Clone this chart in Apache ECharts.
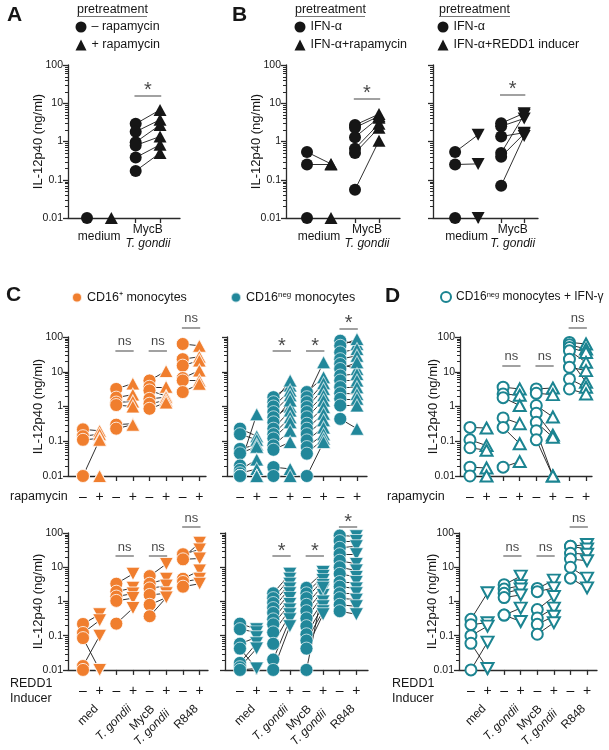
<!DOCTYPE html>
<html>
<head>
<meta charset="utf-8">
<script src="https://cdn.jsdelivr.net/npm/echarts@6/dist/echarts.min.js"></script>
<style>
html, body { margin: 0; padding: 0; background: #fff; }
#chart { width: 609px; height: 750px; }
</style>
</head>
<body>
<div id="chart"></div>
<script>
// IL-12p40 (ng/ml), one value per donor; 0.01 = detection floor
var decadeTicks = [0.01, 0.1, 1, 10, 100];
var groupsAB = ['medium', 'MycB\nT. gondii'];
var groupsCD = ['med', 'T. gondii', 'MycB\nT. gondii', 'R848'];

// A: - / + rapamycin
var aMinus = [[0.01], [2.9, 1.8, 0.96, 0.79, 0.38, 0.17]];
var aPlus = [[0.01], [6.7, 3.7, 2.7, 1.35, 0.82, 0.5]];
var aSigText = [null, '*'];

// B left: IFN-a / IFN-a + rapamycin
var bRapaMinus = [[0.53, 0.25, 0.01], [2.7, 2.3, 1.3, 0.65, 0.5, 0.055]];
var bRapaPlus = [[0.26, 0.25, 0.01], [5.2, 4.6, 4.2, 2.9, 2.3, 1.05]];
var bRapaSig = [null, '*'];

// B right: IFN-a / IFN-a + REDD1 inducer
var bReddMinus = [[0.53, 0.25, 0.01], [3.0, 2.5, 1.35, 0.5, 0.4, 0.07]];
var bReddPlus = [[1.5, 0.26, 0.01], [5.5, 4.0, 1.7, 5.0, 1.6, 1.4]];
var bReddSig = [null, '*'];

// C: CD16+ monocytes
var cPosRapaMinus = [[0.22, 0.14, 0.11, 0.01, 0.01, 0.01], [3.2, 1.8, 1.3, 1.1, 0.3, 0.23],
  [5.6, 3.7, 2.9, 1.66, 1.2, 0.86], [63, 23, 15, 6.6, 5.6, 2.6]];
var cPosRapaPlus = [[0.2, 0.16, 0.12, 0.11, 0.01, 0.01], [4.6, 2.2, 1.4, 1.0, 0.32, 0.3],
  [10.5, 3.7, 2.0, 1.85, 1.5, 1.3], [56, 27, 21, 10.8, 5.6, 4.5]];
var cPosRapaSig = [null, 'ns', 'ns', 'ns'];

var cPosReddMinus = [[0.22, 0.12, 0.085, 0.013, 0.01], [3.3, 1.93, 1.39, 1.04, 0.225],
  [5.5, 3.3, 2.4, 1.55, 0.8, 0.37], [19, 24, 17, 4.6, 3.7, 2.7]];
var cPosReddPlus = [[0.42, 0.28, 0.01, 0.1, 0.01], [6.4, 2.5, 1.7, 1.25, 0.64],
  [12.5, 4.6, 2.9, 1.73, 1.3, 1.3], [52, 33, 18, 8.0, 4.6, 3.3]];
var cPosReddSig = [null, 'ns', 'ns', 'ns'];

// C: CD16neg monocytes
var cNegRapaMinus = [
  [0.23, 0.16, 0.06, 0.045, 0.02, 0.015, 0.012, 0.01, 0.01, 0.01, 0.01, 0.01, 0.01],
  [1.85, 1.33, 1.0, 0.69, 0.49, 0.35, 0.23, 0.16, 0.12, 0.076, 0.057, 0.018, 0.01],
  [2.6, 1.85, 1.33, 0.96, 0.69, 0.49, 0.32, 0.23, 0.16, 0.106, 0.068, 0.044, 0.01],
  [78, 56, 36, 23, 16.7, 12, 7.8, 5.6, 3.6, 2.4, 1.66, 1.07, 0.44]];
var cNegRapaPlus = [
  [0.14, 0.11, 0.08, 0.07, 0.6, 0.03, 0.016, 0.01, 0.01, 0.01, 0.01, 0.01, 0.01],
  [4.0, 5.6, 2.9, 2.1, 1.0, 1.5, 0.77, 0.49, 0.35, 0.2, 0.095, 0.016, 0.01],
  [7.0, 18.7, 4.7, 3.2, 2.1, 1.5, 0.96, 0.62, 0.4, 0.25, 0.16, 0.12, 0.095],
  [63, 88, 45, 29, 12, 18.7, 8.6, 5.6, 3.6, 2.3, 1.66, 1.07, 0.23]];
var cNegRapaSig = [null, '*', '*', '*'];

var cNegReddMinus = [
  [0.225, 0.155, 0.058, 0.042, 0.016, 0.012, 0.01],
  [1.73, 1.25, 0.9, 0.64, 0.46, 0.3, 0.215, 0.125, 0.058, 0.02, 0.01],
  [2.5, 1.73, 1.25, 0.8, 0.52, 0.32, 0.19, 0.11, 0.072, 0.042, 0.01],
  [84, 58, 37, 24, 15.5, 10, 6.4, 3.7, 2.7, 1.73, 1.25, 0.8, 0.52]];
var cNegReddPlus = [
  [0.155, 0.125, 0.09, 0.011, 0.06, 0.042, 0.011],
  [6.4, 4.6, 3.3, 2.4, 1.73, 1.25, 0.84, 0.58, 0.42, 0.3, 0.19],
  [7.2, 5.5, 4.2, 3.0, 2.15, 1.55, 1.0, 0.72, 0.52, 0.42, 2.5],
  [80, 58, 41, 24, 12.5, 8, 5.2, 3.7, 2.4, 1.73, 1.12, 0.72, 0.42]];
var cNegReddSig = [null, '*', '*', '*'];

// D: CD16neg monocytes + IFN-g
var dRapaMinus = [[0.25, 0.11, 0.065, 0.018, 0.01], [3.6, 2.3, 1.8, 0.47, 0.25, 0.018],
  [3.2, 2.4, 1.07, 0.64, 0.35, 0.2, 0.11], [70, 60, 50, 40, 23, 13.5, 6.2, 3.2]];
var dRapaPlus = [[0.24, 0.075, 0.055, 0.017, 0.01], [3.2, 2.1, 1.07, 0.32, 0.085, 0.026],
  [3.4, 2.2, 0.5, 0.15, 0.13, 0.01, 0.01], [63, 45, 36, 18.7, 5.0, 10.8, 3.6, 2.3]];
var dRapaSig = [null, 'ns', 'ns', 'ns'];

var dReddMinus = [[0.3, 0.21, 0.1, 0.06, 0.01], [3.1, 2.3, 1.73, 1.3, 0.4, 0.4],
  [2.4, 1.93, 0.58, 0.33, 0.215, 0.11], [41, 41, 25.6, 17.3, 10, 4.8]];
var dReddPlus = [[1.8, 0.24, 0.19, 0.011, 0.065], [5.5, 2.9, 2.3, 1.55, 0.64, 0.26],
  [4.2, 2.5, 1.39, 0.64, 0.37, 0.24], [46, 34, 24, 15.5, 4.8, 2.5]];
var dReddSig = [null, 'ns', 'ns', 'ns'];

var FONT = '"Liberation Sans", Arial, Helvetica, sans-serif';
var INK = '#161616';
var AXIS = '#2a2a2a';
var ORANGE = '#F07E2E';
var TEAL = '#21879A';
var TEAL_LINE = '#1B8491';

var looks = {
  black: { color: INK, borderColor: INK, borderWidth: 0, circle: 12, tri: [13, 12] },
  orange: { color: ORANGE, borderColor: 'rgba(255,255,255,0.8)', borderWidth: 1, circle: 13, tri: [14, 13] },
  teal: { color: TEAL, borderColor: 'rgba(255,255,255,0.65)', borderWidth: 1, circle: 13, tri: [14, 13] },
  open: { color: '#fff', borderColor: TEAL_LINE, borderWidth: 2, circle: 11, tri: [12, 11] }
};

var panels = [
  { rect: [68, 65, 112, 153], xr: [-0.78, 3.82], look: 'black', down: false, groups: groupsAB,
    minus: aMinus, plus: aPlus, names: ['\u2013 rapamycin', '+ rapamycin'], sig: aSigText, sigAt: [0, 16], nameGap: 23.5 },
  { rect: [286, 65, 114, 153], xr: [-0.875, 3.875], look: 'black', down: false, groups: groupsAB,
    minus: bRapaMinus, plus: bRapaPlus, names: ['IFN-\u03b1', 'IFN-\u03b1+rapamycin'], sig: bRapaSig, sigAt: [0, 13.5], nameGap: 23.5 },
  { rect: [433, 65, 105, 153], xr: [-0.96, 3.6], look: 'black', down: true, groups: groupsAB,
    minus: bReddMinus, plus: bReddPlus, names: ['IFN-\u03b1', 'IFN-\u03b1+REDD1 inducer'], sig: bReddSig, sigAt: [0, 17], nameGap: null },
  { rect: [68, 337, 138, 139], xr: [-0.9, 7.4], look: 'orange', down: false, groups: groupsCD,
    minus: cPosRapaMinus, plus: cPosRapaPlus, names: ['CD16\u207a monocytes', 'CD16+ rapamycin'], sig: cPosRapaSig, sigAt: [0, 40, 40, 190], nameGap: 23.5 },
  { rect: [227, 337, 140, 139], xr: [-0.78, 7.6], look: 'teal', down: false, groups: groupsCD,
    minus: cNegRapaMinus, plus: cNegRapaPlus, names: ['CD16neg monocytes', 'CD16neg rapamycin'], sig: cNegRapaSig, sigAt: [0, 40, 40, 178], nameGap: null },
  { rect: [460, 337, 132, 139], xr: [-0.6, 7.36], look: 'open', down: false, groups: groupsCD,
    minus: dRapaMinus, plus: dRapaPlus, names: ['CD16neg monocytes + IFN-\u03b3', 'IFN-g rapamycin'], sig: dRapaSig, sigAt: [0, 15, 15, 190], nameGap: 20.5 },
  { rect: [68, 533, 140, 140], xr: [-0.9, 7.5], look: 'orange', down: true, groups: groupsCD, rotated: true,
    minus: cPosReddMinus, plus: cPosReddPlus, names: ['CD16\u207a monocytes', 'CD16+ REDD1'], sig: cPosReddSig, sigAt: [0, 21, 21, 150], nameGap: 23.5 },
  { rect: [225, 533, 143, 140], xr: [-0.9, 7.7], look: 'teal', down: true, groups: groupsCD, rotated: true,
    minus: cNegReddMinus, plus: cNegReddPlus, names: ['CD16neg monocytes', 'CD16neg REDD1'], sig: cNegReddSig, sigAt: [0, 21, 21, 150], nameGap: null },
  { rect: [459, 533, 138, 140], xr: [-0.72, 7.6], look: 'open', down: true, groups: groupsCD, rotated: true,
    minus: dReddMinus, plus: dReddPlus, names: ['CD16neg monocytes + IFN-\u03b3', 'IFN-g REDD1'], sig: dReddSig, sigAt: [0, 21, 21, 150], nameGap: 20.5 }
];

var groupRich = {
  n: { fontSize: 12, color: INK, align: 'center', lineHeight: 14 },
  i: { fontSize: 12, color: INK, align: 'center', lineHeight: 14, fontStyle: 'italic' }
};
function groupLabel(name) {
  return name.split('\n').map(function (part) {
    return (part.indexOf('gondii') >= 0 ? '{i|' : '{n|') + part + '}';
  }).join('\n');
}
function decadeLabel(v) {
  return v >= 1 ? String(Math.round(v)) : String(Number(v.toPrecision(1)));
}
function pointsOf(groups, offset) {
  var out = [];
  groups.forEach(function (vals, g) {
    vals.forEach(function (v) { out.push([2 * g + offset, v]); });
  });
  return out;
}
function pairLines(minus, plus) {
  var out = [];
  minus.forEach(function (vals, g) {
    vals.forEach(function (v, i) { out.push({ coords: [[2 * g, v], [2 * g + 1, plus[g][i]]] }); });
  });
  return out;
}

var option = {
  animation: false,
  backgroundColor: '#fff',
  textStyle: { fontFamily: FONT },
  grid: [], xAxis: [], yAxis: [], series: []
};

function addPanel(p) {
  var gi = option.grid.length;
  option.grid.push({ left: p.rect[0], top: p.rect[1], width: p.rect[2], height: p.rect[3] });
  var nPos = p.groups.length * 2;
  var ticks = [];
  for (var t = 0; t < nPos; t++) ticks.push(t);
  var isAB = p.groups.length === 2;

  var xi = option.xAxis.length;
  option.xAxis.push({
    type: 'value', gridIndex: gi, position: 'bottom', min: p.xr[0], max: p.xr[1],
    splitLine: { show: false },
    axisLine: { onZero: false, lineStyle: { color: AXIS, width: 1.3 } },
    axisTick: { customValues: ticks, length: 5, lineStyle: { color: AXIS, width: 1.3 } },
    axisLabel: isAB ? {
      customValues: [0.5, 2.5], margin: 19, verticalAlign: 'middle', color: INK, fontSize: 12, rich: groupRich,
      formatter: function (v) { return groupLabel(p.groups[Math.round((v - 0.5) / 2)]); }
    } : {
      customValues: ticks, margin: 21, verticalAlign: 'middle', color: INK, fontSize: 14,
      formatter: function (v) { return Math.round(v) % 2 ? '+' : '\u2013'; }
    }
  });
  if (p.rotated) {
    option.xAxis.push({
      type: 'value', gridIndex: gi, position: 'bottom', min: p.xr[0], max: p.xr[1],
      splitLine: { show: false }, axisLine: { show: false, onZero: false }, axisTick: { show: false },
      axisLabel: {
        customValues: [0.8, 2.8, 4.8, 6.8], rotate: 45, margin: 37, color: INK, fontSize: 12, rich: groupRich,
        formatter: function (v) { return groupLabel(p.groups[Math.round((v - 0.8) / 2)]); }
      }
    });
  }

  var yi = option.yAxis.length;
  option.yAxis.push({
    type: 'log', logBase: 10, gridIndex: gi, min: 0.01, max: 100,
    splitLine: { show: false },
    axisLine: { onZero: false, lineStyle: { color: AXIS, width: 1.3 } },
    axisTick: { length: 5, lineStyle: { color: AXIS, width: 1.3 } },
    axisLabel: { show: p.nameGap != null, margin: 5, fontSize: 10.5, color: INK, formatter: decadeLabel },
    name: p.nameGap != null ? 'IL-12p40 (ng/ml)' : '',
    nameLocation: 'middle', nameGap: p.nameGap || 0, nameMoveOverlap: false,
    nameTextStyle: { fontSize: 13, color: INK }
  });

  // minor log ticks 2..9 of each decade
  var minor = [];
  decadeTicks.slice(0, -1).forEach(function (d) {
    for (var m = 2; m <= 9; m++) minor.push([p.xr[0], d * m]);
  });
  option.series.push({
    type: 'custom', xAxisIndex: xi, yAxisIndex: yi, data: minor, silent: true, clip: false,
    renderItem: function (params, api) {
      var pt = api.coord([api.value(0), api.value(1)]);
      var y = Math.round(pt[1]) + 0.5;
      return { type: 'line', shape: { x1: pt[0] - 3, y1: y, x2: pt[0], y2: y },
        style: { stroke: AXIS, lineWidth: 1 } };
    }
  });

  var look = looks[p.look];
  var itemStyle = { color: look.color, borderColor: look.borderColor, borderWidth: look.borderWidth, opacity: 1 };

  option.series.push({
    type: 'lines', coordinateSystem: 'cartesian2d', xAxisIndex: xi, yAxisIndex: yi, silent: true, z: 1,
    data: pairLines(p.minus, p.plus), lineStyle: { color: '#1a1a1a', width: 0.9, opacity: 1 }
  });
  option.series.push({
    type: 'scatter', name: p.names[0], xAxisIndex: xi, yAxisIndex: yi, z: 3, silent: true,
    symbol: 'circle', symbolSize: look.circle, itemStyle: itemStyle, data: pointsOf(p.minus, 0)
  });
  option.series.push({
    type: 'scatter', name: p.names[1], xAxisIndex: xi, yAxisIndex: yi, z: 4, silent: true,
    symbol: 'triangle', symbolSize: look.tri, symbolRotate: p.down ? 180 : 0,
    itemStyle: itemStyle, data: pointsOf(p.plus, 1)
  });

  // significance bars
  var bars = [], marks = [];
  p.sig.forEach(function (txt, g) {
    if (!txt) return;
    var h = p.sigAt[g];
    bars.push({ coords: [[2 * g - 0.05, h], [2 * g + 1.05, h]] });
    marks.push({ value: [2 * g + 0.5, h], name: txt,
      label: txt === '*' ? { fontSize: 20, offset: [0, 8] } : { fontSize: 13 } });
  });
  option.series.push({
    type: 'lines', coordinateSystem: 'cartesian2d', xAxisIndex: xi, yAxisIndex: yi, silent: true, clip: false,
    data: bars, lineStyle: { color: '#8a8a8a', width: 1.6, opacity: 1 }
  });
  option.series.push({
    type: 'scatter', xAxisIndex: xi, yAxisIndex: yi, silent: true, clip: false,
    symbolSize: 1, itemStyle: { color: 'transparent' }, data: marks,
    label: { show: true, position: 'top', distance: 2, color: INK, formatter: '{b}' }
  });
}
panels.forEach(addPanel);

var negRich = {
  n: { fontSize: 12.5, color: INK },
  s: { fontSize: 8, color: INK, verticalAlign: 'top' }
};
var negRichD = {
  n: { fontSize: 12, color: INK },
  s: { fontSize: 7.5, color: INK, verticalAlign: 'top' }
};
var legendBase = { orient: 'vertical', selectedMode: false, itemGap: 5, padding: 0,
  textStyle: { fontSize: 12.5, color: INK } };
function legend(extra) {
  var out = {};
  Object.keys(legendBase).forEach(function (k) { out[k] = legendBase[k]; });
  Object.keys(extra).forEach(function (k) { out[k] = extra[k]; });
  return out;
}
option.legend = [
  legend({ left: 75.5, top: 20.5, itemWidth: 11, itemHeight: 11, data: ['\u2013 rapamycin', '+ rapamycin'] }),
  legend({ left: 294.5, top: 20.5, itemWidth: 11, itemHeight: 11, data: ['IFN-\u03b1', 'IFN-\u03b1+rapamycin'] }),
  legend({ left: 437.5, top: 20.5, itemWidth: 11, itemHeight: 11, data: ['IFN-\u03b1', 'IFN-\u03b1+REDD1 inducer'] }),
  legend({ left: 71, top: 291, itemWidth: 10, itemHeight: 10, textStyle: { fontSize: 12.5, color: INK },
    data: ['CD16\u207a monocytes'] }),
  legend({ left: 230, top: 291, itemWidth: 10, itemHeight: 10, data: ['CD16neg monocytes'],
    textStyle: { fontSize: 12.5, color: INK, rich: negRich },
    formatter: function () { return '{n|CD16}{s|neg}{n| monocytes}'; } }),
  legend({ left: 440, top: 291, itemWidth: 10, itemHeight: 10, data: ['CD16neg monocytes + IFN-\u03b3'],
    textStyle: { fontSize: 12, color: INK, rich: negRichD },
    formatter: function () { return '{n|CD16}{s|neg}{n| monocytes + IFN-\u03b3}'; } })
];

function txt(x, y, s, font, va) {
  return { type: 'text', x: x, y: y, silent: true,
    style: { text: s, font: font + ' ' + FONT, fill: INK, verticalAlign: va || 'top' } };
}
function rule(x1, x2, y) {
  return { type: 'line', silent: true, shape: { x1: x1, y1: y, x2: x2, y2: y },
    style: { stroke: '#777', lineWidth: 1 } };
}
option.graphic = [
  txt(7, 5, 'A', 'bold 21px'), txt(232, 5, 'B', 'bold 21px'),
  txt(6, 285, 'C', 'bold 21px'), txt(385, 286, 'D', 'bold 21px'),
  txt(77, 3, 'pretreatment', '12.5px'), rule(77, 147, 16.5),
  txt(295, 3, 'pretreatment', '12.5px'), rule(295, 365, 16.5),
  txt(439, 3, 'pretreatment', '12.5px'), rule(439, 510, 16.5),
  txt(10, 497, 'rapamycin', '12.5px', 'middle'), txt(387, 497, 'rapamycin', '12.5px', 'middle'),
  txt(10, 684, 'REDD1', '12.5px', 'middle'), txt(10, 699, 'Inducer', '12.5px', 'middle'),
  txt(392, 684, 'REDD1', '12.5px', 'middle'), txt(392, 699, 'Inducer', '12.5px', 'middle')
];

var chart = echarts.init(document.getElementById('chart'), null, { renderer: 'canvas' });
chart.setOption(option);
</script>
</body>
</html>
